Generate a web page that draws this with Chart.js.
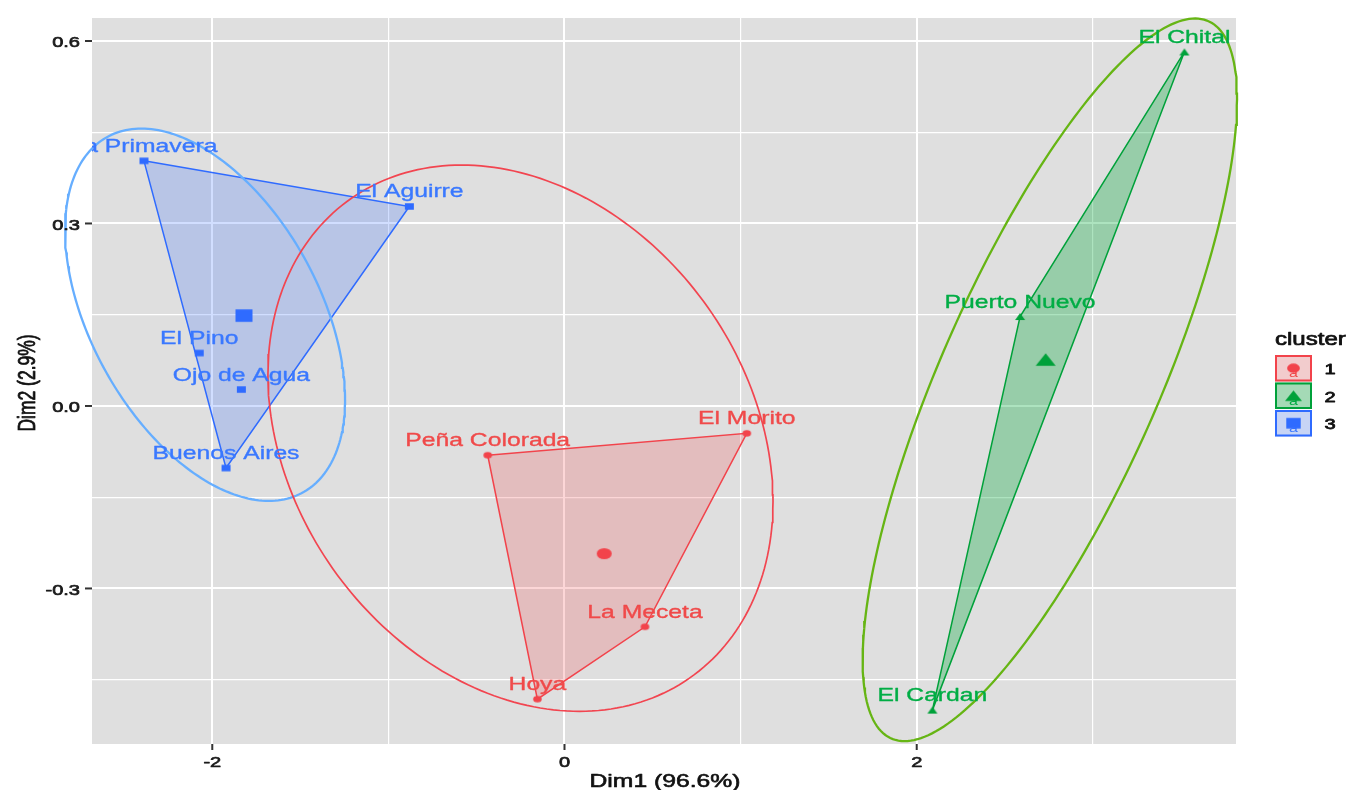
<!DOCTYPE html>
<html>
<head>
<meta charset="utf-8">
<title>Cluster plot</title>
<script src="https://cdn.jsdelivr.net/npm/chart.js@4.4.0/dist/chart.umd.min.js"></script>
<style>
  html, body { margin: 0; padding: 0; background: #ffffff; }
  #wrap { width: 1350px; height: 790px; }
</style>
</head>
<body>
<div id="wrap"><canvas id="c" width="1350" height="790"></canvas></div>
<script>
// Site coordinates on the first two dimensions, grouped by cluster
const cluster1Names = ['Peña Colorada', 'El Morito', 'La Meceta', 'Hoya'];
const cluster1Dim1 = [-0.436, 1.035, 0.457, -0.154];
const cluster1Dim2 = [-0.081, -0.045, -0.363, -0.482];

const cluster2Names = ['El Chital', 'Puerto Nuevo', 'El Cardan'];
const cluster2Dim1 = [3.520, 2.587, 2.089];
const cluster2Dim2 = [0.582, 0.147, -0.500];

const cluster3Names = ['La Primavera', 'El Aguirre', 'El Pino', 'Ojo de Agua', 'Buenos Aires'];
const cluster3Dim1 = [-2.388, -0.881, -2.074, -1.835, -1.922];
const cluster3Dim2 = [0.403, 0.328, 0.087, 0.027, -0.102];

// Ellipse per cluster: centre, spread on each dimension and correlation
const ellipseCenterDim1 = [-0.250, 2.756, -2.041];
const ellipseCenterDim2 = [-0.053, 0.043, 0.150];
const ellipseSpreadDim1 = [1.434, 1.063, 0.795];
const ellipseSpreadDim2 = [0.449, 0.594, 0.306];
const ellipseCorrelation = [-0.233, 0.776, -0.455];

// Axis labels
const xTickLabels = ['-2', '0', '2'];
const yTickLabels = ['-0.3', '0.0', '0.3', '0.6'];
const xAxisTitle = 'Dim1 (96.6%)';
const yAxisTitle = 'Dim2 (2.9%)';
const legendTitle = 'cluster';
const legendLabels = ['1', '2', '3'];

// ---------------------------------------------------------------------------
const STRETCH = 1.335;
const FONT = '"Liberation Sans", Arial, sans-serif';
const markColors = ['#F2434B', '#00A13A', '#2F6BFF'];
const labelColors = ['#F04A4A', '#00AD45', '#3A78FF'];
const hullFills = ['rgba(240,67,75,0.22)', 'rgba(0,168,55,0.32)', 'rgba(47,107,255,0.22)'];
const ellipseColors = ['#F24550', '#66B514', '#66AEFF'];
const ellipseWidths = [1.7, 2.3, 2.3];
const shapes = ['circle', 'triangle', 'square'];

const clusters = [
  { names: cluster1Names, x: cluster1Dim1, y: cluster1Dim2 },
  { names: cluster2Names, x: cluster2Dim1, y: cluster2Dim2 },
  { names: cluster3Names, x: cluster3Dim1, y: cluster3Dim2 }
];

function toPoints(cl) {
  return cl.x.map((v, i) => ({ x: v, y: cl.y[i], name: cl.names[i] }));
}

function mean(a) { return a.reduce((s, v) => s + v, 0) / a.length; }

// Monotone chain convex hull, closed
function convexHull(pts) {
  const p = pts.map(q => ({ x: q.x, y: q.y })).sort((a, b) => a.x - b.x || a.y - b.y);
  if (p.length < 3) return p.concat([p[0]]);
  const cross = (o, a, b) => (a.x - o.x) * (b.y - o.y) - (a.y - o.y) * (b.x - o.x);
  const lower = [];
  for (const q of p) {
    while (lower.length >= 2 && cross(lower[lower.length - 2], lower[lower.length - 1], q) <= 0) lower.pop();
    lower.push(q);
  }
  const upper = [];
  for (let i = p.length - 1; i >= 0; i--) {
    const q = p[i];
    while (upper.length >= 2 && cross(upper[upper.length - 2], upper[upper.length - 1], q) <= 0) upper.pop();
    upper.push(q);
  }
  upper.pop(); lower.pop();
  const hull = lower.concat(upper);
  hull.push(hull[0]);
  return hull;
}

// Outline of an ellipse described by centre, spreads and correlation
function ellipseOutline(k) {
  const cx = ellipseCenterDim1[k], cy = ellipseCenterDim2[k];
  const sx = ellipseSpreadDim1[k], sy = ellipseSpreadDim2[k], r = ellipseCorrelation[k];
  const out = [];
  const n = 240;
  for (let i = 0; i <= n; i++) {
    const t = (i / n) * 2 * Math.PI;
    out.push({ x: cx + sx * Math.cos(t), y: cy + sy * (r * Math.cos(t) + Math.sqrt(1 - r * r) * Math.sin(t)) });
  }
  return out;
}

// Marker images, wider than tall like the rest of the figure
function markerCanvas(shape, w, h, color) {
  const c = document.createElement('canvas');
  c.width = Math.ceil(w) + 2; c.height = Math.ceil(h) + 2;
  const g = c.getContext('2d');
  const cx = c.width / 2, cy = c.height / 2;
  g.fillStyle = color;
  g.beginPath();
  if (shape === 'circle') g.ellipse(cx, cy, w / 2, h / 2, 0, 0, 2 * Math.PI);
  else if (shape === 'square') g.rect(cx - w / 2, cy - h / 2, w, h);
  else { g.moveTo(cx, cy - h / 2); g.lineTo(cx + w / 2, cy + h / 2); g.lineTo(cx - w / 2, cy + h / 2); g.closePath(); }
  g.fill();
  return c;
}
const smallSize = { circle: [8.5, 6.5], square: [9, 6.5], triangle: [10, 7] };
const bigSize = { circle: [15, 11], square: [17, 12.5], triangle: [20, 12.5] };

const datasets = [];
clusters.forEach((cl, k) => {
  const pts = toPoints(cl);
  datasets.push({
    label: 'hull' + k, data: convexHull(pts), showLine: true, fill: 'shape',
    backgroundColor: hullFills[k], borderColor: markColors[k], borderWidth: 1.5,
    pointRadius: 0, order: 40
  });
});
clusters.forEach((cl, k) => {
  datasets.push({
    label: 'ellipse' + k, data: ellipseOutline(k), showLine: true, fill: false,
    borderColor: ellipseColors[k], borderWidth: ellipseWidths[k], pointRadius: 0,
    clip: false, order: 30
  });
});
clusters.forEach((cl, k) => {
  const s = smallSize[shapes[k]];
  datasets.push({
    label: 'sites' + k, data: toPoints(cl), showLine: false,
    pointStyle: markerCanvas(shapes[k], s[0], s[1], markColors[k]), pointRadius: 4,
    order: 20
  });
  const b = bigSize[shapes[k]];
  datasets.push({
    label: 'centre' + k, data: [{ x: mean(cl.x), y: mean(cl.y) }], showLine: false,
    pointStyle: markerCanvas(shapes[k], b[0], b[1], markColors[k]), pointRadius: 6,
    order: 10
  });
});

function stretchedText(ctx, text, x, y, font, color, align, baseline, rot, weight) {
  ctx.save();
  ctx.translate(x, y);
  ctx.scale(STRETCH, 1);
  if (rot) ctx.rotate(rot);
  ctx.font = font; ctx.fillStyle = color;
  ctx.textAlign = align; ctx.textBaseline = baseline;
  ctx.fillText(text, 0, 0);
  if (weight) {
    ctx.strokeStyle = color;
    ctx.lineWidth = weight;
    ctx.lineJoin = 'round';
    ctx.strokeText(text, 0, 0);
  }
  ctx.restore();
}

const panelPlugin = {
  id: 'panel',
  beforeDraw(chart) {
    const { ctx, chartArea: a } = chart;
    ctx.save();
    ctx.fillStyle = '#DFDFDF';
    ctx.fillRect(a.left, a.top, a.right - a.left, a.bottom - a.top);
    ctx.restore();
  },
  afterDatasetsDraw(chart) {
    const { ctx, chartArea: a, scales } = chart;
    ctx.save();
    ctx.beginPath();
    ctx.rect(a.left, a.top, a.right - a.left, a.bottom - a.top);
    ctx.clip();
    clusters.forEach((cl, k) => {
      cl.names.forEach((nm, i) => {
        const px = scales.x.getPixelForValue(cl.x[i]);
        const py = scales.y.getPixelForValue(cl.y[i]);
        stretchedText(ctx, nm, px, py - 9, '18.5px ' + FONT, labelColors[k], 'center', 'alphabetic', 0, 0.35);
      });
    });
    ctx.restore();
  },
  afterDraw(chart) {
    const { ctx, chartArea: a, scales } = chart;
    ctx.save();
    // axis ticks and labels
    ctx.strokeStyle = '#333333';
    ctx.lineWidth = 2;
    xTickLabels.forEach(t => {
      const px = scales.x.getPixelForValue(parseFloat(t));
      ctx.beginPath(); ctx.moveTo(px, a.bottom); ctx.lineTo(px, a.bottom + 6); ctx.stroke();
      stretchedText(ctx, t, px, a.bottom + 22.5, '15px ' + FONT, '#1A1A1A', 'center', 'alphabetic', 0, 0.7);
    });
    ctx.strokeStyle = '#333333';
    ctx.lineWidth = 2;
    yTickLabels.forEach(t => {
      const py = scales.y.getPixelForValue(parseFloat(t));
      ctx.strokeStyle = '#333333';
      ctx.lineWidth = 2;
      ctx.beginPath(); ctx.moveTo(a.left - 7, py); ctx.lineTo(a.left, py); ctx.stroke();
      stretchedText(ctx, t, a.left - 12, py + 6.5, '15px ' + FONT, '#1A1A1A', 'right', 'alphabetic', 0, 0.7);
    });
    // axis titles
    stretchedText(ctx, xAxisTitle, (a.left + a.right) / 2 + 1, 786.5, '18.5px ' + FONT, '#111111', 'center', 'alphabetic', 0, 0.6);
    stretchedText(ctx, yAxisTitle, 28.5, (a.top + a.bottom) / 2 + 2, '17.5px ' + FONT, '#111111', 'center', 'middle', -Math.PI / 2, 0.6);
    // legend
    stretchedText(ctx, legendTitle, 1275, 345, '18px ' + FONT, '#111111', 'left', 'alphabetic', 0, 0.7);
    const keyLeft = 1275, keyW = 37, keyH = 26.5, keyTop = 355, keyStep = 27.5;
    legendLabels.forEach((lab, k) => {
      const top = keyTop + k * keyStep;
      const cx = keyLeft + keyW / 2, cy = top + keyH / 2;
      ctx.fillStyle = '#F2F2F2';
      ctx.fillRect(keyLeft, top, keyW, keyH);
      ctx.fillStyle = hullFills[k];
      ctx.fillRect(keyLeft, top, keyW, keyH);
      ctx.strokeStyle = markColors[k];
      ctx.lineWidth = 2;
      ctx.strokeRect(keyLeft + 1, top + 1, keyW - 2, keyH - 2);
      stretchedText(ctx, 'a', cx, cy + 9, '12px ' + FONT, labelColors[k], 'center', 'alphabetic');
      const b = bigSize[shapes[k]];
      const img = markerCanvas(shapes[k], b[0] * 0.85, b[1] * 0.85, markColors[k]);
      ctx.drawImage(img, cx - img.width / 2, cy - img.height / 2);
      stretchedText(ctx, lab, 1330, cy + 6, '15px ' + FONT, '#111111', 'center', 'alphabetic', 0, 0.8);
    });
    ctx.restore();
  }
};

const isMajorX = v => Math.abs(Math.round(v)) % 2 === 0;
const isMajorY = v => Math.abs(Math.round(v / 0.15)) % 2 === 0;

new Chart(document.getElementById('c'), {
  type: 'scatter',
  data: { datasets },
  options: {
    responsive: false,
    animation: false,
    events: [],
    layout: { padding: { left: 92, top: 18, right: 114, bottom: 46 } },
    plugins: { legend: { display: false }, tooltip: { enabled: false } },
    scales: {
      x: {
        type: 'linear', min: -2.683, max: 3.813,
        ticks: { display: false, stepSize: 1, includeBounds: false },
        grid: {
          color: '#FFFFFF', drawTicks: false,
          lineWidth: c => (c.tick && isMajorX(c.tick.value) ? 2 : 1.2)
        },
        border: { display: false }
      },
      y: {
        type: 'linear', min: -0.5557, max: 0.6378,
        ticks: { display: false, stepSize: 0.15, includeBounds: false },
        grid: {
          color: '#FFFFFF', drawTicks: false,
          lineWidth: c => (c.tick && isMajorY(c.tick.value) ? 2 : 1.2)
        },
        border: { display: false }
      }
    }
  },
  plugins: [panelPlugin]
});
</script>
</body>
</html>
